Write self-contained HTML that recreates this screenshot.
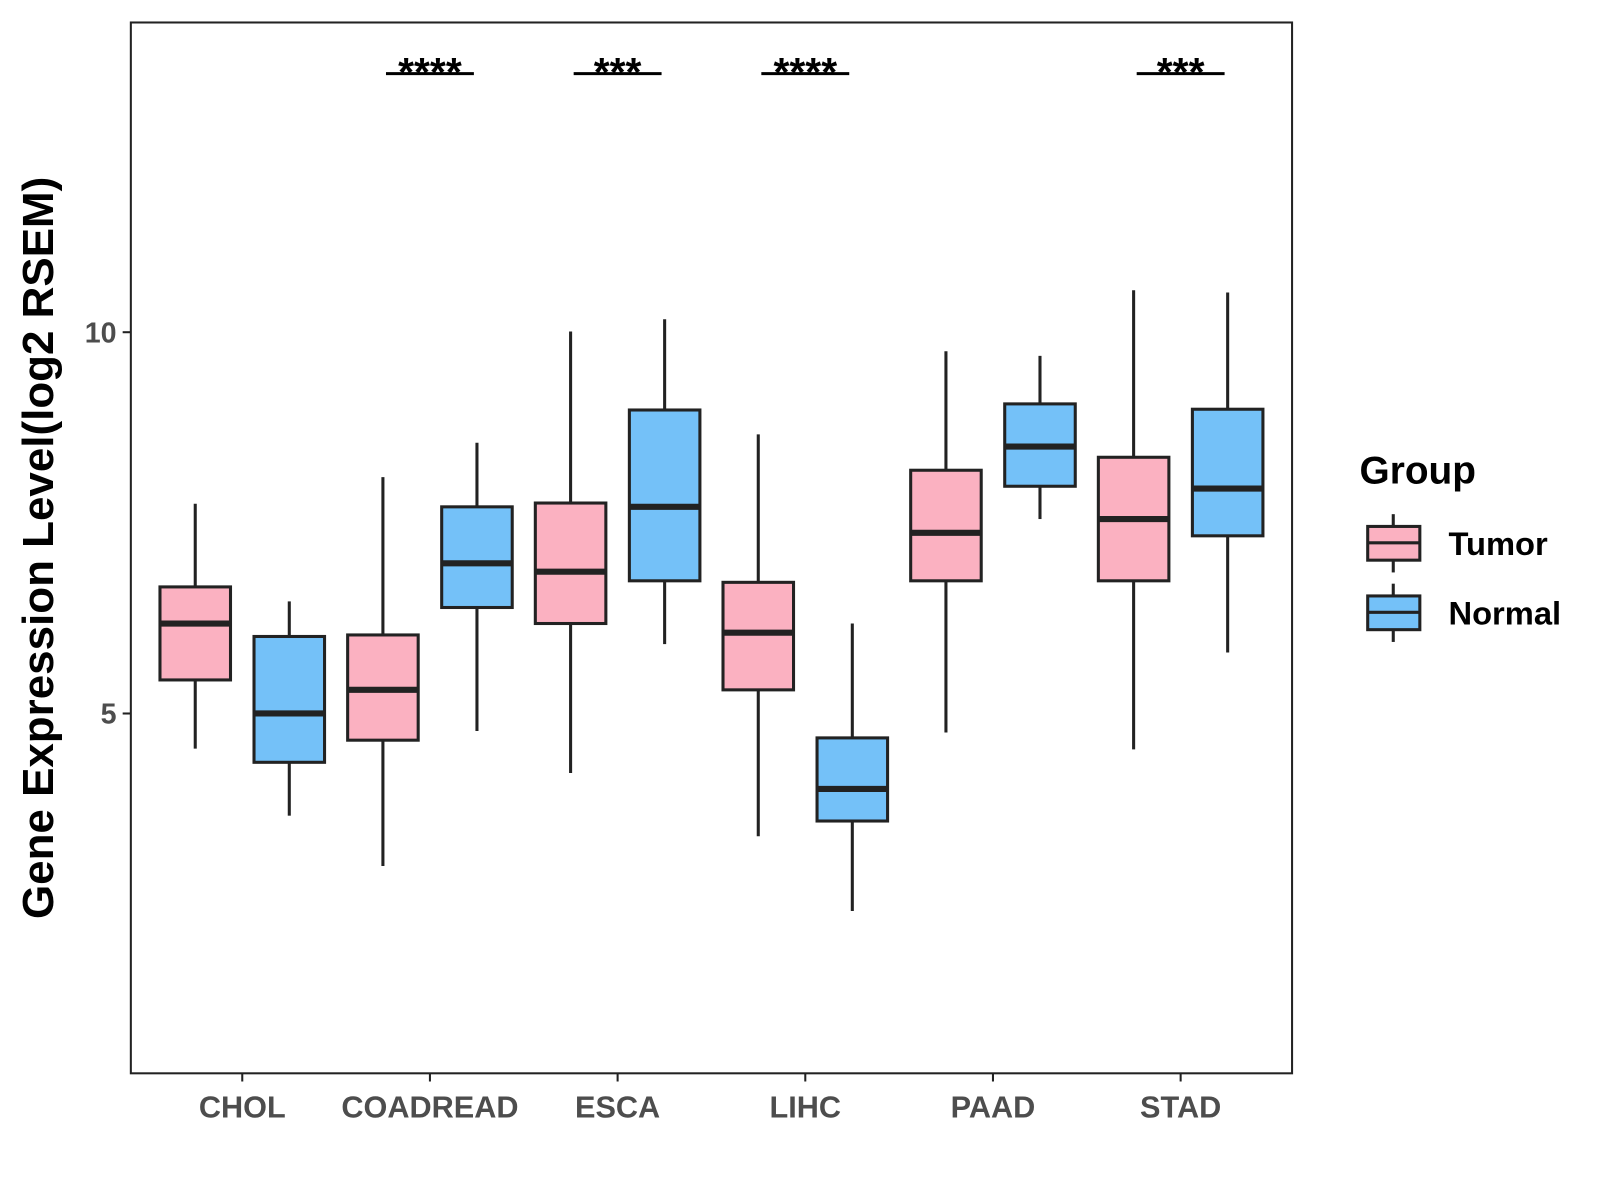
<!DOCTYPE html>
<html><head><meta charset="utf-8"><style>
body{margin:0;background:#fff;}
svg{display:block;font-family:"Liberation Sans",Arial,sans-serif;}
</style></head><body>
<svg id="chart" width="1600" height="1200" viewBox="0 0 1600 1200">
<g transform="scale(1.0222)">
<rect x="128" y="22" width="1136" height="1028" fill="#fff" stroke="#222" stroke-width="2"/>
<g id="marks"></g>
<text transform="translate(52,536) rotate(-90)" text-anchor="middle" font-size="43" font-weight="bold" fill="#000">Gene Expression Level(log2 RSEM)</text>
<g>
<text x="1330" y="473" font-size="38" font-weight="bold">Group</text>
<g>
<line x1="1363" y1="503" x2="1363" y2="560" stroke="#222" stroke-width="3"/>
<rect x="1338" y="515" width="51" height="33" fill="#FBB1C1" stroke="#222" stroke-width="3"/>
<line x1="1338" y1="531" x2="1389" y2="531" stroke="#222" stroke-width="3"/>
<text x="1417" y="543" font-size="32" font-weight="bold">Tumor</text>
</g>
<g>
<line x1="1363" y1="571" x2="1363" y2="628" stroke="#222" stroke-width="3"/>
<rect x="1338" y="583" width="51" height="33" fill="#74C1F8" stroke="#222" stroke-width="3"/>
<line x1="1338" y1="599" x2="1389" y2="599" stroke="#222" stroke-width="3"/>
<text x="1417" y="611" font-size="32" font-weight="bold">Normal</text>
</g>
</g>
</g>
</svg>
<script>
const categories=["CHOL","COADREAD","ESCA","LIHC","PAAD","STAD"];
const tumorLow=[4.54,3.0,4.22,3.39,4.75,4.53];
const tumorQ1=[5.44,4.65,6.18,5.31,6.74,6.74];
const tumorMed=[6.18,5.31,6.86,6.06,7.37,7.55];
const tumorQ3=[6.66,6.03,7.76,6.72,8.19,8.36];
const tumorHigh=[7.75,8.10,10.01,8.66,9.75,10.55];
const normalLow=[3.66,4.77,5.91,2.41,7.55,5.80];
const normalQ1=[4.36,6.39,6.74,3.59,7.98,7.33];
const normalMed=[5.0,6.97,7.71,4.01,8.50,7.95];
const normalQ3=[6.01,7.71,8.98,4.68,9.06,8.99];
const normalHigh=[6.47,8.55,10.17,6.18,9.69,10.52];
const signif=["","****","***","****","","***"];
const yTicks=[5,10];

const NS="http://www.w3.org/2000/svg";
const g=document.getElementById('marks');
function yS(v){return 698-(v-5)*74.6;}
function xS(i){return 237+i*183.6;}
function mk(tag,attrs,parent){const e=document.createElementNS(NS,tag);for(const k in attrs)e.setAttribute(k,attrs[k]);(parent||g).appendChild(e);return e;}

yTicks.forEach(t=>{
  const l=mk('line',{x1:120,x2:128,y1:yS(t),y2:yS(t),stroke:'#222','stroke-width':2});
  
  
  const tx=mk('text',{x:114,y:yS(t)+10,'text-anchor':'end','font-size':28,'font-weight':'bold',fill:'#4d4d4d'});
  tx.textContent=t;
  
  
});

function box(cx,lo,q1,md,q3,hi,fill,name){
  const grp=mk('g',{});
  
  
  mk('line',{x1:cx,x2:cx,y1:yS(hi),y2:yS(q3),stroke:'#222','stroke-width':3},grp);
  mk('line',{x1:cx,x2:cx,y1:yS(q1),y2:yS(lo),stroke:'#222','stroke-width':3},grp);
  mk('rect',{x:cx-34.5,y:yS(q3),width:69,height:yS(q1)-yS(q3),fill:fill,stroke:'#222','stroke-width':3},grp);
  mk('line',{x1:cx-34.5,x2:cx+34.5,y1:yS(md),y2:yS(md),stroke:'#222','stroke-width':6},grp);
}

categories.forEach((c,i)=>{
  const cx=xS(i);
  box(cx-46,tumorLow[i],tumorQ1[i],tumorMed[i],tumorQ3[i],tumorHigh[i],'#FBB1C1','box-tumor-'+c.toLowerCase());
  box(cx+46,normalLow[i],normalQ1[i],normalMed[i],normalQ3[i],normalHigh[i],'#74C1F8','box-normal-'+c.toLowerCase());
  const tk=mk('line',{x1:cx,x2:cx,y1:1050,y2:1058,stroke:'#222','stroke-width':2});
  
  
  const lb=mk('text',{x:cx,y:1093,'text-anchor':'middle','font-size':30,'font-weight':'bold',fill:'#4d4d4d'});
  lb.textContent=c;
  
  
  if(signif[i]){
    const sl=mk('line',{x1:cx-43,x2:cx+43,y1:72,y2:72,stroke:'#000','stroke-width':3});
    
    
    const st=mk('text',{x:cx,y:84,'text-anchor':'middle','font-size':40,'font-weight':'bold',fill:'#000'});
    st.textContent=signif[i];
    
    
  }
});
</script>
</body></html>
